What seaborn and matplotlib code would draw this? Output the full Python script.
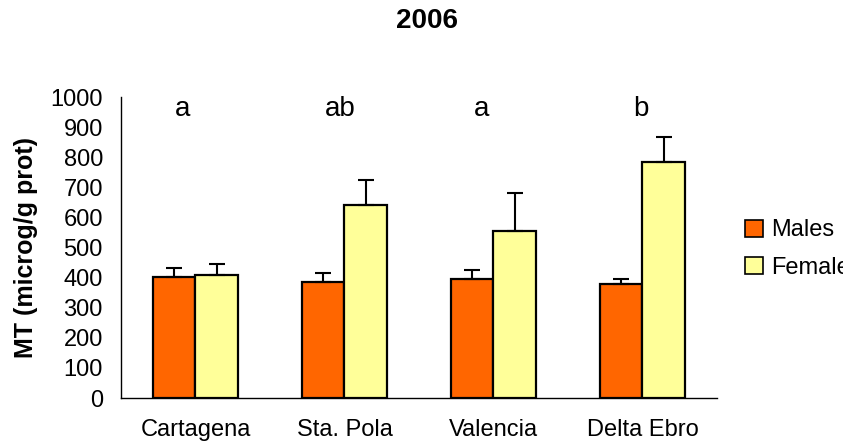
import matplotlib
matplotlib.use("Agg")
import matplotlib.pyplot as plt
from matplotlib.patches import Patch
import seaborn as sns
import pandas as pd
import numpy as np

sites = ["Cartagena", "Sta. Pola", "Valencia", "Delta Ebro"]
males = [402, 384, 397, 379]
females = [408, 640, 555, 786]
males_err = [31, 30, 30, 18]
females_err = [37, 85, 128, 80]
letters = ["a", "ab", "a", "b"]
groups = ["Males", "Females"]
yticks = [0, 100, 200, 300, 400, 500, 600, 700, 800, 900, 1000]

# horizontal nudge of each significance letter, in category units
letter_shift = [-0.087, -0.027, -0.08, -0.013]

sns.set_style("white")
plt.rcParams["font.family"] = ["Liberation Sans", "DejaVu Sans"]
plt.rcParams.update({"text.color": "black", "axes.labelcolor": "black",
                     "xtick.color": "black", "ytick.color": "black"})

df = pd.DataFrame({
    "site": sites * 2,
    "sex": [groups[0]] * len(sites) + [groups[1]] * len(sites),
    "mt": males + females,
})

fig = plt.figure(figsize=(8.43, 4.45), dpi=100)
ax = fig.add_axes([0.1435, 0.1056, 0.707, 0.676])

sns.barplot(data=df, x="site", y="mt", hue="sex", order=sites, hue_order=groups,
            palette=["#FF6600", "#FFFF99"], saturation=1, width=0.57, errorbar=None,
            edgecolor="black", linewidth=1.6, ax=ax, legend=False)

# one-sided (upper) error bars on top of each bar
for container, errs in zip(ax.containers, [males_err, females_err]):
    for patch, e in zip(container.patches, errs):
        xc = patch.get_x() + patch.get_width() / 2
        h = patch.get_height()
        ax.errorbar(xc, h, yerr=[[0], [e]], fmt="none", ecolor="black",
                    elinewidth=1.5, capsize=6, capthick=1.5)

for i, (lab, dx) in enumerate(zip(letters, letter_shift)):
    ax.text(i + dx, 962, lab, ha="center", va="center", fontsize=20)

ax.set_ylim(0, 1000)
ax.set_yticks(yticks)
ax.set_xlim(-0.5, len(sites) - 0.5)
ax.set_xticks(range(len(sites)))
ax.set_xticklabels(sites, fontsize=17)
ax.set_xticks(np.arange(-0.5, len(sites)), minor=True)
ax.tick_params(axis="x", which="major", length=0, pad=15)
ax.tick_params(axis="x", which="minor", length=6, width=1, color="black", direction="out")
ax.tick_params(axis="y", length=6, width=1, color="black", direction="out", labelsize=17, pad=7)
ax.set_xlabel("")
ax.set_ylabel("MT (microg/g prot)", fontsize=18, fontweight="bold", labelpad=9)

for s in ["top", "right"]:
    ax.spines[s].set_visible(False)
for s in ["left", "bottom"]:
    ax.spines[s].set_color("black")
    ax.spines[s].set_linewidth(1)

fig.text(0.507, 0.952, "2006", ha="center", va="center", fontsize=20, fontweight="bold")

handles = [Patch(facecolor="#FF6600", edgecolor="black", linewidth=1.2),
           Patch(facecolor="#FFFF99", edgecolor="black", linewidth=1.2)]
fig.legend(handles, groups, loc="upper left", bbox_to_anchor=(0.884, 0.507),
           frameon=False, fontsize=17, handlelength=0.75, handleheight=0.75,
           handletextpad=0.35, labelspacing=0.65, borderaxespad=0, borderpad=0)

fig.savefig("out.png", dpi=100)
